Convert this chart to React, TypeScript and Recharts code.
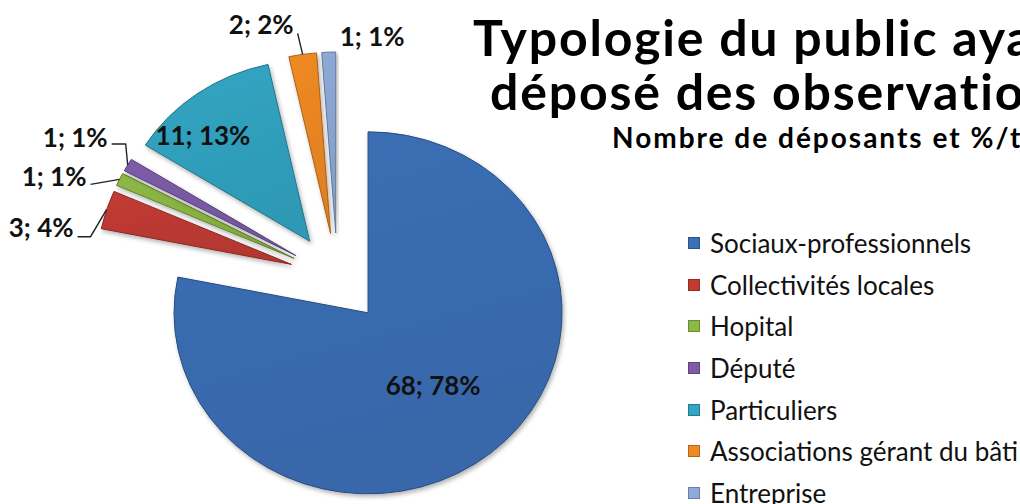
import React from 'react';
import { PieChart, Pie, Cell, Sector, Legend } from 'recharts';

const categories = [
  'Sociaux-professionnels',
  'Collectivités locales',
  'Hopital',
  'Député',
  'Particuliers',
  'Associations gérant du bâti',
  'Entreprise',
];
const counts = [68, 3, 1, 1, 11, 2, 1];
const percents = [78, 4, 1, 1, 13, 2, 1];
const colors = ['#3B6FB6', '#C23B33', '#8DB845', '#7C5CA8', '#31A5C3', '#F08A24', '#8EAAD8'];

const titleLines = ['Typologie du public ayant', 'déposé des observations'];
const subtitle = 'Nombre de déposants et %/total';

const data = categories.map((name, i) => ({
  name,
  value: counts[i],
  pct: percents[i],
  color: colors[i],
}));

const RAD = Math.PI / 180;
const EXPLODE = 45;
const SX = 1.072;
const FONT = 'Lato, "Open Sans", sans-serif';

const polar = (r: number, angle: number) => ({
  x: SX * r * Math.cos(-angle * RAD),
  y: r * Math.sin(-angle * RAD),
});

const darken = (hex: string, f: number) => {
  const n = parseInt(hex.slice(1), 16);
  const r = Math.round(((n >> 16) & 255) * f);
  const g = Math.round(((n >> 8) & 255) * f);
  const b = Math.round((n & 255) * f);
  return `rgb(${r},${g},${b})`;
};

const ExplodedSector = (props: any) => {
  const { cx, cy, innerRadius, outerRadius, startAngle, endAngle, midAngle, fill, index } = props;
  const off = polar(EXPLODE, midAngle);
  const dx = off.x / SX;
  const dy = off.y;
  return (
    <g
      transform={`translate(${cx} ${cy}) scale(${SX} 1) translate(${-cx + dx} ${-cy + dy})`}
      filter="url(#sliceShadow)"
    >
      <Sector
        cx={cx}
        cy={cy}
        innerRadius={innerRadius}
        outerRadius={outerRadius}
        startAngle={startAngle}
        endAngle={endAngle}
        fill={`url(#grad${index})`}
        stroke={darken(fill, 0.7)}
        strokeWidth={1}
        vectorEffect="non-scaling-stroke"
      />
    </g>
  );
};

const renderLabel = (props: any) => {
  const { cx, cy, midAngle, outerRadius, index } = props;
  const d = data[index];
  const text = `${d.value}; ${d.pct}%`;
  const a = polar(EXPLODE, midAngle);
  const apex = { x: cx + a.x, y: cy + a.y };
  const rim = polar(outerRadius, midAngle);
  const M = { x: apex.x + rim.x, y: apex.y + rim.y };
  const common = {
    fontFamily: FONT,
    fontWeight: 700,
    fontSize: 26,
    fill: '#111',
  } as const;
  const lineStyle = { stroke: '#222', strokeWidth: 1.4, fill: 'none' };

  if (index === 0 || index === 4) {
    const k = index === 0 ? 0.53 : 0.75;
    const p = polar(outerRadius * k, midAngle);
    const nudge = index === 0 ? { x: 0, y: -2 } : { x: -23, y: 5 };
    return (
      <text
        x={apex.x + p.x + nudge.x}
        y={apex.y + p.y + nudge.y}
        textAnchor="middle"
        dominantBaseline="central"
        {...common}
      >
        {text}
      </text>
    );
  }
  if (index === 6) {
    return (
      <text x={M.x + 11} y={M.y - 6} textAnchor="start" {...common}>
        {text}
      </text>
    );
  }
  let pts: { x: number; y: number }[] = [];
  let base = 1;
  if (index === 1) {
    const E = { x: M.x - 16, y: M.y + 27 };
    pts = [M, E, { x: E.x - 13, y: E.y }];
    base = 0;
  } else if (index === 2) {
    pts = [M, { x: M.x - 29, y: M.y + 5 }];
    base = 2;
  } else if (index === 3) {
    const E = { x: M.x - 2, y: M.y - 21 };
    pts = [M, E, { x: E.x - 14, y: E.y }];
    base = 3;
  } else if (index === 5) {
    pts = [M, { x: M.x - 5, y: M.y - 21 }];
    base = 1;
  }
  const L = pts[pts.length - 1];
  return (
    <g>
      <polyline points={pts.map((p) => `${p.x},${p.y}`).join(' ')} {...lineStyle} />
      <text x={L.x - 4} y={L.y + base} textAnchor="end" {...common}>
        {text}
      </text>
    </g>
  );
};

const LegendContent = (props: any) => {
  const { payload } = props;
  const items = [...(payload || [])].sort(
    (p: any, q: any) => categories.indexOf(p.value) - categories.indexOf(q.value),
  );
  return (
    <ul style={{ listStyle: 'none', margin: 0, padding: 0 }}>
      {items.map((entry: any, i: number) => (
        <li
          key={i}
          style={{
            height: 41.7,
            display: 'flex',
            alignItems: 'center',
            fontFamily: FONT,
            fontSize: 26,
            color: '#111',
            whiteSpace: 'nowrap',
          }}
        >
          <span
            style={{
              display: 'inline-block',
              width: 12,
              height: 12,
              marginRight: 10,
              background: entry.color,
              border: `1px solid ${darken(colors[categories.indexOf(entry.value)] || '#888888', 0.75)}`,
              boxSizing: 'border-box',
            }}
          />
          {entry.value}
        </li>
      ))}
    </ul>
  );
};

export default function App() {
  return (
    <div
      style={{
        position: 'absolute',
        left: 0,
        top: 0,
        width: 1020,
        height: 504,
        overflow: 'hidden',
        background: '#fff',
      }}
    >
      <PieChart width={1020} height={504} margin={{ top: 0, right: 0, bottom: 0, left: 0 }}>
        <defs>
          <filter id="sliceShadow" x="-20%" y="-20%" width="140%" height="140%">
            <feDropShadow dx="1.5" dy="2.5" stdDeviation="2" floodColor="#000" floodOpacity="0.3" />
          </filter>
          {colors.map((c, i) => (
            <linearGradient key={i} id={`grad${i}`} x1="0" y1="0" x2="0.3" y2="1">
              <stop offset="0%" stopColor={c} stopOpacity={1} />
              <stop offset="100%" stopColor={darken(c, 0.93)} stopOpacity={1} />
            </linearGradient>
          ))}
        </defs>
        <text x={473} y={56} fontFamily={FONT} fontWeight={700} fontSize={50} fill="#000" letterSpacing={1.8}>
          {titleLines[0]}
        </text>
        <text x={490} y={110} fontFamily={FONT} fontWeight={700} fontSize={50} fill="#000" letterSpacing={1.8}>
          {titleLines[1]}
        </text>
        <text x={612} y={148} fontFamily={FONT} fontWeight={700} fontSize={28} fill="#000" letterSpacing={2}>
          {subtitle}
        </text>
        <Pie
          data={data}
          dataKey="value"
          nameKey="name"
          cx={337.5}
          cy={278}
          outerRadius={181}
          startAngle={90}
          endAngle={-270}
          stroke="none"
          isAnimationActive={false}
          labelLine={false}
          label={renderLabel}
          shape={ExplodedSector}
        >
          {data.map((d, i) => (
            <Cell key={i} fill={d.color} />
          ))}
        </Pie>
        <Legend
          layout="vertical"
          align="right"
          verticalAlign="top"
          itemSorter={null as any}
          content={<LegendContent />}
          wrapperStyle={{ left: 688, top: 222, width: 330, right: 'auto' }}
        />
      </PieChart>
    </div>
  );
}
